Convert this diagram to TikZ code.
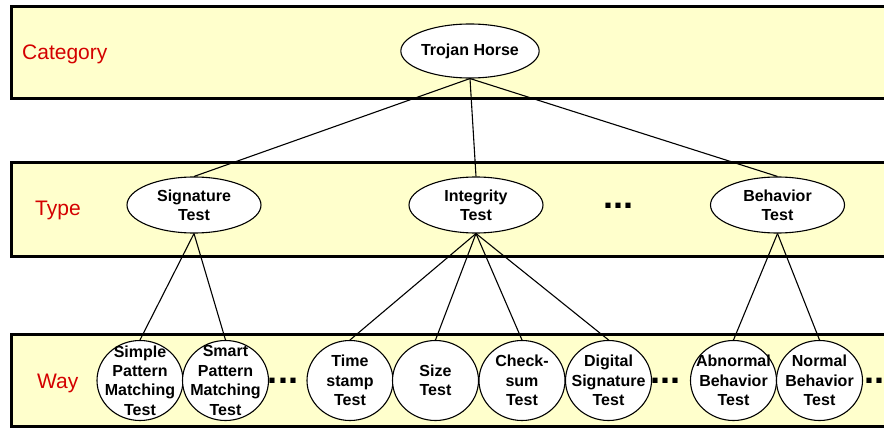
\documentclass[tikz,border=0pt]{standalone}
\usepackage{fontspec}
\setmainfont{Liberation Sans}
\usetikzlibrary{shapes.geometric}
\definecolor{bandfill}{HTML}{FFFFCC}
\definecolor{labelred}{HTML}{D40000}

\tikzset{
  band/.style={draw=black, line width=3pt, fill=bandfill},
  bandlabel/.style={text=labelred, font=\fontsize{21}{24}\selectfont, inner sep=0pt, anchor=base west},
  nodefont/.style={font=\fontsize{16}{19.4}\selectfont\bfseries},
  topnode/.style={ellipse, draw, line width=1.1pt, fill=white, minimum width=138pt, minimum height=54pt, inner sep=0pt, nodefont},
  typenode/.style={ellipse, draw, line width=1.1pt, fill=white, minimum width=134pt, minimum height=56pt, inner sep=0pt},
  waynode/.style={ellipse, draw, line width=1.1pt, fill=white, minimum width=86pt, minimum height=80pt, inner sep=0pt},
  intext/.style={align=center, inner sep=0pt, nodefont},
  dots/.style={font=\fontsize{36}{36}\selectfont\bfseries, inner sep=0pt, anchor=base},
  link/.style={line width=1.1pt}
}

\begin{document}
\begin{tikzpicture}[x=1pt, y=-1pt]
  \useasboundingbox (0,0) rectangle (884,428);
  \clip (0,0) rectangle (884,428);

  % the three level bands
  \draw[band] (11,6.5) rectangle (900,99);
  \draw[band] (11,162) rectangle (900,256.5);
  \draw[band] (11,334) rectangle (900,426.5);

  \node[bandlabel] (lcat) at (22,60) {Category};
  \node[bandlabel] (ltype) at (35,215) {Type};
  \node[bandlabel] (lway) at (37,388.5) {Way};

  % category
  \node[topnode] (trojan) at (470,51) {Trojan Horse};

  % types
  \node[typenode] (sig) at (194,205) {};
  \node[typenode] (integ) at (476,205) {};
  \node[typenode] (behav) at (777.5,205) {};
  \node[dots] (tdots) at (618.5,208) {...};

  % ways
  \node[waynode] (simple) at (140,380.5) {};
  \node[waynode] (smart) at (225.5,380.5) {};
  \node[dots] (wdots1) at (283,383) {...};
  \node[waynode] (stamp) at (350,380.5) {};
  \node[waynode] (size) at (435.5,380.5) {};
  \node[waynode] (check) at (522,380.5) {};
  \node[waynode] (digital) at (608.5,380.5) {};
  \node[dots] (wdots2) at (665,383) {...};
  \node[waynode] (abnormal) at (733.5,380.5) {};
  \node[waynode] (normal) at (819.5,380.5) {};
  \node[dots] (wdots3) at (879,383) {...};

  % connectors
  \draw[link] (trojan.south) -- (sig.north);
  \draw[link] (trojan.south) -- (integ.north);
  \draw[link] (trojan.south) -- (behav.north);

  \draw[link] (sig.south) -- (simple.north);
  \draw[link] (sig.south) -- (smart.north);

  \draw[link] (integ.south) -- (stamp.north);
  \draw[link] (integ.south) -- (size.north);
  \draw[link] (integ.south) -- (check.north);
  \draw[link] (integ.south) -- (digital.north);

  \draw[link] (behav.south) -- (abnormal.north);
  \draw[link] (behav.south) -- (normal.north);

  % texts inside the ellipses
  \node[intext] (tsig) at (sig.center) {Signature\\Test};
  \node[intext] (tinteg) at (integ.center) {Integrity\\Test};
  \node[intext] (tbehav) at (behav.center) {Behavior\\Test};

  \node[intext] (tsimple) at (simple.center) {Simple\\Pattern\\Matching\\Test};
  \node[intext] (tsmart) at (smart.center) {Smart\\Pattern\\Matching\\Test};
  \node[intext] (tstamp) at (stamp.center) {Time\\stamp\\Test};
  \node[intext] (tsize) at (size.center) {Size\\Test};
  \node[intext] (tcheck) at (check.center) {Check-\\sum\\Test};
  \node[intext] (tdigital) at (digital.center) {Digital\\Signature\\Test};
  \node[intext] (tabnormal) at (abnormal.center) {Abnormal\\Behavior\\Test};
  \node[intext] (tnormal) at (normal.center) {Normal\\Behavior\\Test};
\end{tikzpicture}
\end{document}
